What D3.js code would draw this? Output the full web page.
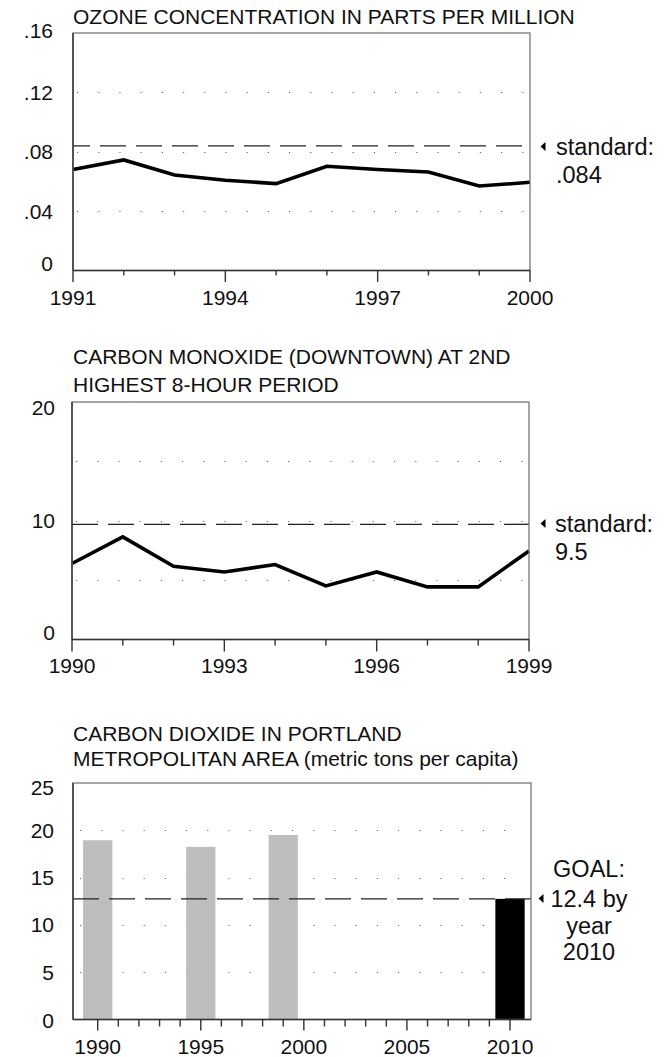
<!DOCTYPE html>
<html><head><meta charset="utf-8">
<script src="https://cdn.jsdelivr.net/npm/d3@7"></script>
<style>
body{margin:0;background:#fff}
svg{display:block}
text{font-family:"Liberation Sans",Arial,Helvetica,sans-serif;fill:#111}
</style></head><body>
<svg id="c" width="672" height="1057"></svg>
<script>
// ---------- DATA ----------
// Ozone
const ozoneTitle = ["OZONE CONCENTRATION IN PARTS PER MILLION"];
const ozoneYears = [1991,1992,1993,1994,1995,1996,1997,1998,1999,2000];
const ozoneValues = [0.068,0.0745,0.0643,0.0608,0.0585,0.0702,0.068,0.0664,0.0569,0.0594];
const ozoneStandard = 0.084;
const ozoneYTicks = [0,0.04,0.08,0.12,0.16];
const ozoneYTickLabels = ["0",".04",".08",".12",".16"];
const ozoneGrid = [0.04,0.08,0.12];
const ozoneXLabels = [1991,1994,1997,2000];
const ozoneNote = ["standard:",".084"];

// Carbon monoxide
const coTitle = ["CARBON MONOXIDE (DOWNTOWN) AT 2ND","HIGHEST 8-HOUR PERIOD"];
const coYears = [1990,1991,1992,1993,1994,1995,1996,1997,1998,1999];
const coValues = [6.4,8.64,6.17,5.69,6.31,4.51,5.69,4.43,4.43,7.46];
const coStandard = 9.7;
const coYTicks = [0,10,20];
const coYTickLabels = ["0","10","20"];
const coGrid = [5,10,15];
const coXLabels = [1990,1993,1996,1999];
const coNote = ["standard:","9.5"];

// Carbon dioxide
const co2Title = ["CARBON DIOXIDE IN PORTLAND","METROPOLITAN AREA (metric tons per capita)"];
const co2Years = [1990,1995,1999];
const co2Values = [18.95,18.25,19.5];
const co2GoalYear = 2010;
const co2Goal = 12.75;
const co2YTicks = [0,5,10,15,20,25];
const co2YTickLabels = ["0","5","10","15","20","25"];
const co2Grid = [5,10,15,20];
const co2XLabels = [1990,1995,2000,2005,2010];
const co2Note = ["GOAL:","12.4 by","year","2010"];

// ---------- DRAWING ----------
const svg = d3.select("#c");
const FS = 21;      // titles and tick labels
const FN = 23.5;    // annotations

function frame(g, x0, x1, y0, y1){
  g.append("rect").attr("x",x0).attr("y",y1).attr("width",x1-x0).attr("height",y0-y1)
    .attr("fill","none").attr("stroke","#777").attr("stroke-width",1.3);
  g.append("line").attr("x1",x0).attr("x2",x0).attr("y1",y1).attr("y2",y0)
    .attr("stroke","#333").attr("stroke-width",1.4);
  g.append("line").attr("x1",x0).attr("x2",x1).attr("y1",y0).attr("y2",y0)
    .attr("stroke","#333").attr("stroke-width",1.4);
}
function grid(g, vals, y, x0, x1, start){
  g.selectAll(null).data(vals).join("line")
    .attr("x1",start).attr("x2",x1-6).attr("y1",d=>Math.round(y(d))+0.5).attr("y2",d=>Math.round(y(d))+0.5)
    .attr("stroke","#666").attr("stroke-width",1).attr("stroke-dasharray","1.2,20");
}
function dashed(g, v, y, x0, x1, off){
  g.append("line").attr("x1",x0).attr("x2",x1).attr("y1",y(v)).attr("y2",y(v))
    .attr("stroke","#222").attr("stroke-width",1.3).attr("stroke-dasharray","26,10")
    .attr("stroke-dashoffset",off);
}
function yLabels(g, ticks, labels, y, xr, topDy, zeroDy){
  g.selectAll(null).data(ticks).join("text")
    .attr("x",xr).attr("text-anchor","end").attr("font-size",FS)
    .attr("y",(d,i)=> y(d) + (i===ticks.length-1 ? topDy : (d===0 ? zeroDy : 7.5)))
    .text((d,i)=>labels[i]);
}
function xAxis(g, x, y0, years, majors, majLen, minLen, labelBase){
  g.selectAll(null).data(years).join("line")
    .attr("x1",d=>x(d)).attr("x2",d=>x(d)).attr("y1",y0)
    .attr("y2",d=> y0 + (majors.includes(d)?majLen:minLen))
    .attr("stroke","#333").attr("stroke-width",1.4);
  g.selectAll(null).data(majors).join("text")
    .attr("x",d=>x(d)).attr("y",labelBase).attr("text-anchor","middle").attr("font-size",FS)
    .text(d=>d);
}
function title(g, lines, x, base, lh){
  g.selectAll(null).data(lines).join("text")
    .attr("x",x).attr("y",(d,i)=>base+i*lh).attr("font-size",FS).text(d=>d);
}
function pointer(g, x, yv){
  g.append("path").attr("d",`M${x},${yv} L${x+5},${yv-4.5} L${x+5},${yv+4.5} Z`).attr("fill","#000");
}

// ---- Chart 1: Ozone ----
{
  const g = svg.append("g");
  const x = d3.scaleLinear().domain([1991,2000]).range([73,530]);
  const y = d3.scaleLinear().domain([0,0.16]).range([270.5,33]);
  title(g, ozoneTitle, 73, 24, 28);
  grid(g, ozoneGrid, y, 73, 530, 77);
  dashed(g, ozoneStandard, y, 73, 530, 9);
  g.append("path").datum(ozoneYears.map((yr,i)=>[yr,ozoneValues[i]]))
    .attr("d", d3.line().x(d=>x(d[0])).y(d=>y(d[1])))
    .attr("fill","none").attr("stroke","#000").attr("stroke-width",3.6).attr("stroke-linejoin","miter");
  frame(g, 73, 530, 270.5, 33);
  yLabels(g, ozoneYTicks, ozoneYTickLabels, y, 53, 4.5, 0);
  xAxis(g, x, 270.5, ozoneYears, ozoneXLabels, 11.5, 5, 305);
  pointer(g, 540.5, 146.5);
  g.selectAll(null).data(ozoneNote).join("text")
    .attr("x",556).attr("y",(d,i)=>155+i*28.3).attr("font-size",FN).text(d=>d);
}

// ---- Chart 2: Carbon monoxide ----
{
  const g = svg.append("g");
  const x = d3.scaleLinear().domain([1990,1999]).range([72,529]);
  const y = d3.scaleLinear().domain([0,20]).range([639.5,402]);
  title(g, coTitle, 73, 364, 28);
  grid(g, coGrid, y, 72, 529, 76);
  dashed(g, coStandard, y, 72, 529, 0);
  g.append("path").datum(coYears.map((yr,i)=>[yr,coValues[i]]))
    .attr("d", d3.line().x(d=>x(d[0])).y(d=>y(d[1])))
    .attr("fill","none").attr("stroke","#000").attr("stroke-width",3.6);
  frame(g, 72, 529, 639.5, 402);
  yLabels(g, coYTicks, coYTickLabels, y, 55, 13, 0.5);
  xAxis(g, x, 639.5, coYears, coXLabels, 12, 6, 673);
  pointer(g, 540.5, 523.5);
  g.selectAll(null).data(coNote).join("text")
    .attr("x",555).attr("y",(d,i)=>531.7+i*28.3).attr("font-size",FN).text(d=>d);
}

// ---- Chart 3: Carbon dioxide ----
{
  const g = svg.append("g");
  const x = d3.scaleLinear().domain([1990,2010]).range([97.7,510]);
  const x0 = 73, x1 = 531;
  const y = d3.scaleLinear().domain([0,25]).range([1019.5,783]);
  title(g, co2Title, 73, 741, 25);
  grid(g, co2Grid, y, x0, x1, 80);
  const half = 0.71;
  g.selectAll(null).data(co2Years).join("rect")
    .attr("x",(d)=>x(d-half)).attr("width",(d)=>x(d+half)-x(d-half))
    .attr("y",(d,i)=>y(co2Values[i])).attr("height",(d,i)=>y(0)-y(co2Values[i]))
    .attr("fill","#bebebe");
  g.append("rect").attr("x",x(co2GoalYear-half)).attr("width",x(co2GoalYear+half)-x(co2GoalYear-half))
    .attr("y",y(co2Goal)).attr("height",y(0)-y(co2Goal)).attr("fill","#000");
  dashed(g, co2Goal, y, x0, x1, 0);
  frame(g, x0, x1, 1019.5, 783);
  yLabels(g, co2YTicks, co2YTickLabels, y, 54, 12, 8.5);
  const yrs = d3.range(1990, 2011);
  xAxis(g, x, 1019.5, yrs, co2XLabels, 11, 7, 1054);
  pointer(g, 538.5, 898.5);
  g.selectAll(null).data(co2Note).join("text")
    .attr("x",589).attr("text-anchor","middle")
    .attr("y",(d,i)=>[877,907,933.5,960][i]).attr("font-size",FN).text(d=>d);
}
</script>
</body></html>
